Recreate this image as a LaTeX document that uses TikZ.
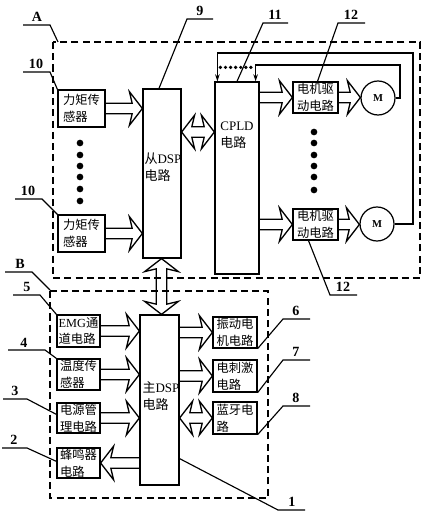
\documentclass[tikz,border=0pt]{standalone}
\usepackage{fontspec}
\setmainfont{Liberation Serif}
\newfontfamily\cjk{Noto Sans CJK SC}
\usetikzlibrary{calc,arrows.meta}
\newcommand\zh[1]{{\cjk #1}}
% hollow arrow geometry (pt)
\newcommand\arW{2.95pt}
\newcommand\arH{9.6pt}
\newcommand\arJ{5.8pt}
\newcommand\arB{7.4pt}
\newcommand\harr[2]{\path[arrbody] let \p1=(#1), \p2=(#2), \n1={sign(\x2-\x1)} in
  (\x1,\y1+\arW) -- (\x2-\n1*\arJ,\y1+\arW) -- (\x2-\n1*\arB,\y1+\arH) -- (\x2,\y1)
  -- (\x2-\n1*\arB,\y1-\arH) -- (\x2-\n1*\arJ,\y1-\arW) -- (\x1,\y1-\arW);}
\newcommand\dharr[2]{\path[arrbody] let \p1=(#1), \p2=(#2), \n1={sign(\x2-\x1)} in
  (\x1,\y1) -- (\x1+\n1*\arB,\y1+\arH) -- (\x1+\n1*\arJ,\y1+\arW) -- (\x2-\n1*\arJ,\y1+\arW)
  -- (\x2-\n1*\arB,\y1+\arH) -- (\x2,\y1) -- (\x2-\n1*\arB,\y1-\arH) -- (\x2-\n1*\arJ,\y1-\arW)
  -- (\x1+\n1*\arJ,\y1-\arW) -- (\x1+\n1*\arB,\y1-\arH) -- cycle;}
\newcommand\dvarr[2]{\path[arrbody] let \p1=(#1), \p2=(#2), \n1={sign(\y2-\y1)} in
  (\x1,\y1) -- (\x1+\arH,\y1+\n1*\arB) -- (\x1+\arW,\y1+\n1*\arJ) -- (\x1+\arW,\y2-\n1*\arJ)
  -- (\x1+\arH,\y2-\n1*\arB) -- (\x1,\y2) -- (\x1-\arH,\y2-\n1*\arB) -- (\x1-\arW,\y2-\n1*\arJ)
  -- (\x1-\arW,\y1+\n1*\arJ) -- (\x1-\arH,\y1+\n1*\arB) -- cycle;}
\begin{document}
\begin{tikzpicture}[x=0.02cm,y=-0.02cm,
  bx/.style 2 args={draw, line width=0.7pt, inner xsep=0.5pt, inner ysep=0.2pt, align=left,
     font=\fontsize{7}{9.5}\selectfont, minimum width=#1*0.02cm, minimum height=#2*0.02cm},
  txt/.style={inner sep=0pt, align=left, font=\fontsize{7.4}{9.5}\selectfont},
  mot/.style={draw, circle, line width=0.7pt, inner sep=0pt, minimum size=0.68cm, font=\bfseries\fontsize{6}{6}\selectfont},
  arrbody/.style={draw, line width=0.75pt, line join=miter},
  dbox/.style={draw, line width=0.75pt, dash pattern=on 4pt off 2.4pt},
  fb/.style={draw, line width=0.7pt, -{Stealth[length=4pt,width=2.6pt]}},
  dotl/.style={draw, line width=2.1pt, line cap=round, dash pattern=on 0pt off 2.9pt},
  lbl/.style={inner sep=0pt, font=\bfseries\fontsize{8}{8}\selectfont},
  ld/.style={draw, line width=0.65pt}]
\useasboundingbox (0,0) rectangle (433,523);

% frames
\draw[dbox] (53,42) rectangle (420,278);
\draw[dbox] (50,291) rectangle (268,498);

% upper group
\node[bx={47}{37}] (ts1) at (81.5,108.5) {\zh{力矩传}\\\zh{感器}};
\node[bx={47}{37}] (ts2) at (81.5,233.5) {\zh{力矩传}\\\zh{感器}};
\node[bx={38}{169}] (sdsp) at (162,173.5) {};
\node[txt] (sdspt) at (163,167) {\zh{从}DSP\\\zh{电路}};
\node[bx={44}{192}] (cpld) at (237,178) {};
\node[txt] (cpldt) at (237,135) {CPLD\\\zh{电路}};
\node[bx={45}{31}] (md1) at (315.5,97.5) {\zh{电机驱}\\\zh{动电路}};
\node[bx={45}{31}] (md2) at (315.5,224.5) {\zh{电机驱}\\\zh{动电路}};
\node[mot] (m1) at (378,98) {M};
\node[mot] (m2) at (377,224) {M};

% lower group
\node[bx={39}{170}] (mdsp) at (159.5,400) {};
\node[txt] (mdspt) at (161,396) {\zh{主}DSP\\\zh{电路}};
\node[bx={43}{32}] (emg) at (78.5,331) {EMG\zh{通}\\\zh{道电路}};
\node[bx={43}{31}] (temp) at (78.5,374.5) {\zh{温度传}\\\zh{感器}};
\node[bx={43}{30}] (pwr) at (78.5,418) {\zh{电源管}\\\zh{理电路}};
\node[bx={43}{30}] (buz) at (78.5,463) {\zh{蜂鸣器}\\\zh{电路}};
\node[bx={44}{31}] (vib) at (235,332.5) {\zh{振动电}\\\zh{机电路}};
\node[bx={44}{32}] (stim) at (235,376) {\zh{电刺激}\\\zh{电路}};
\node[bx={44}{32}] (bt) at (235,418) {\zh{蓝牙电}\\\zh{路}};

% hollow arrows
\harr{ts1.east}{sdsp.west |- ts1.east}
\harr{ts2.east}{sdsp.west |- ts2.east}
\coordinate (yb) at (0,132);
\dharr{sdsp.east |- yb}{cpld.west |- yb}
\harr{cpld.east |- md1.west}{md1.west}
\harr{md1.east}{m1.west}
\harr{cpld.east |- md2.west}{md2.west}
\harr{md2.east}{m2.west}
\coordinate (vx) at (161.5,0);
\dvarr{vx |- mdsp.north}{vx |- sdsp.south}
\harr{emg.east}{mdsp.west |- emg.east}
\harr{temp.east}{mdsp.west |- temp.east}
\harr{pwr.east}{mdsp.west |- pwr.east}
\harr{mdsp.west |- buz.east}{buz.east}
\harr{mdsp.east |- vib.west}{vib.west}
\harr{mdsp.east |- stim.west}{stim.west}
\dharr{mdsp.east |- bt.west}{bt.west}

% feedback lines
\coordinate (fin1) at ($(cpld.north west)+(3,0)$);
\coordinate (fin2) at ($(cpld.north east)+(-4,0)$);
\coordinate (fbo) at (413,53);
\coordinate (fbi) at (400,65);
\draw[fb] (m2.east) -| (fbo) -| (fin1);
\draw[fb] (m1.east) -| (fbi) -| (fin2);
\coordinate (dl1) at ($(fin1)+(3,-14)$);
\coordinate (dl2) at ($(fin2)+(-1,-14)$);
\draw[dotl] (dl1) -- (dl2);

% ellipsis dots
\foreach \yy in {143,155,166,177,189,201} \fill (80,\yy) circle[radius=1.9pt];
\foreach \yy in {132,143,155,166,177,190} \fill (314,\yy) circle[radius=1.9pt];

% labels and leaders
\node[lbl] (lA) at (37,17) {A};
\coordinate (lA1) at (23,25); \coordinate (lA2) at (50,25); \coordinate (lA3) at (58,42);
\draw[ld] (lA1) -- (lA2) -- (lA3);

\node[lbl] (l10a) at (36,64) {10};
\coordinate (l10a1) at (23,72); \coordinate (l10a2) at (50,72);
\draw[ld] (l10a1) -- (l10a2) -- (ts1.north west);

\node[lbl] (l10b) at (28,191) {10};
\coordinate (l10b1) at (15,199); \coordinate (l10b2) at (42,199);
\draw[ld] (l10b1) -- (l10b2) -- (ts2.north west);

\node[lbl] (l9) at (200,11) {9};
\coordinate (l91) at (187,19); \coordinate (l92) at (213,19);
\draw[ld] ($(sdsp.north)+(-3,0)$) -- (l91) -- (l92);

\node[lbl] (l11) at (275,15) {11};
\coordinate (l111) at (263,23); \coordinate (l112) at (288,23);
\draw[ld] (cpld.north) -- (l111) -- (l112);

\node[lbl] (l12a) at (351,15) {12};
\coordinate (l12a1) at (338,23); \coordinate (l12a2) at (365,23);
\draw[ld] ($(md1.north)+(2,0)$) -- (l12a1) -- (l12a2);

\node[lbl] (l12b) at (343,287) {12};
\coordinate (l12b1) at (330,295); \coordinate (l12b2) at (357,295);
\draw[ld] ($(md2.south)+(-7,0)$) -- (l12b1) -- (l12b2);

\node[lbl] (lB) at (20,264) {B};
\coordinate (lB1) at (5,272); \coordinate (lB2) at (32,272); \coordinate (lB3) at (50,290);
\draw[ld] (lB1) -- (lB2) -- (lB3);

\node[lbl] (l5) at (27,287) {5};
\coordinate (l51) at (13,295); \coordinate (l52) at (40,295);
\draw[ld] (l51) -- (l52) -- (emg.north west);

\node[lbl] (l4) at (24,343) {4};
\coordinate (l41) at (8,350); \coordinate (l42) at (45,350);
\draw[ld] (l41) -- (l42) -- (temp.north west);

\node[lbl] (l3) at (15,391) {3};
\coordinate (l31) at (3,399); \coordinate (l32) at (27,399);
\draw[ld] (l31) -- (l32) -- ($(pwr.north west)+(0,12)$);

\node[lbl] (l2) at (14,440) {2};
\coordinate (l21) at (2,448); \coordinate (l22) at (27,448);
\draw[ld] (l21) -- (l22) -- ($(buz.north west)+(0,14)$);

\node[lbl] (l6) at (296,311) {6};
\coordinate (l61) at (283,319); \coordinate (l62) at (310,319);
\draw[ld] (vib.south east) -- (l61) -- (l62);

\node[lbl] (l7) at (296,352) {7};
\coordinate (l71) at (283,360); \coordinate (l72) at (310,360);
\draw[ld] (stim.south east) -- (l71) -- (l72);

\node[lbl] (l8) at (296,398) {8};
\coordinate (l81) at (283,406); \coordinate (l82) at (310,406);
\draw[ld] (bt.south east) -- (l81) -- (l82);

\node[lbl] (l1) at (292,502) {1};
\coordinate (l11a) at (278,510); \coordinate (l12c) at (305,510);
\draw[ld] ($(mdsp.south east)+(0,-27)$) -- (l11a) -- (l12c);
\end{tikzpicture}
\end{document}
